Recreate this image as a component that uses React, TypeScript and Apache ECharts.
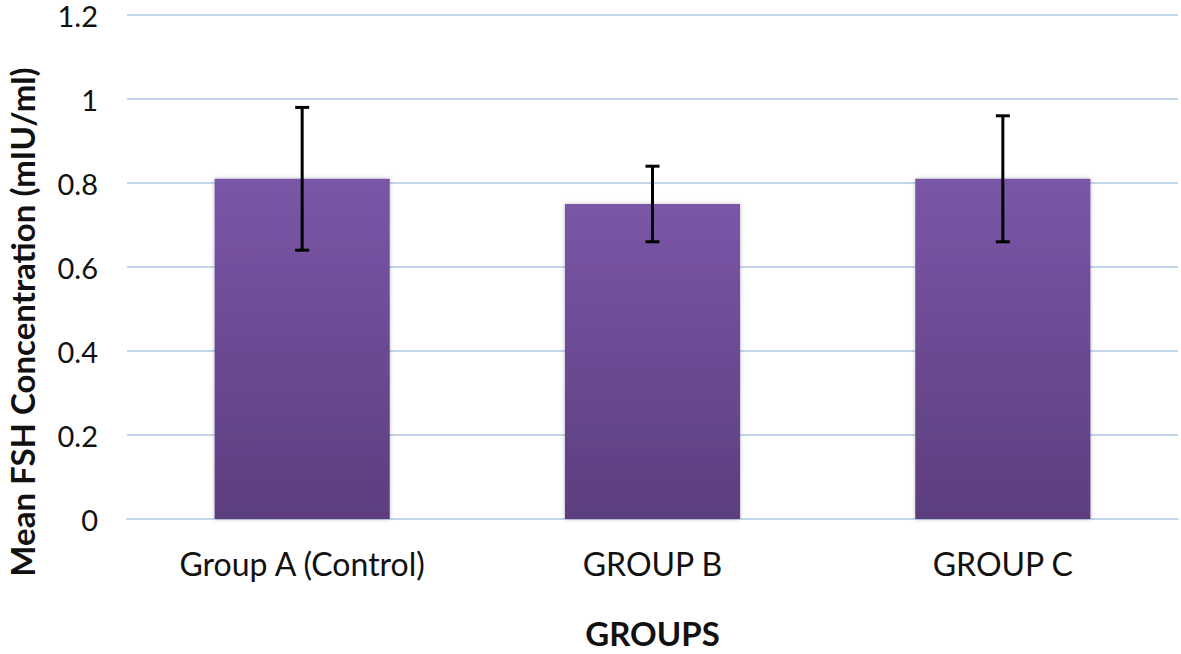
import React, { useEffect, useRef } from "react";
import * as echarts from "echarts";

const categories = ["Group A (Control)", "GROUP B", "GROUP C"];
const meanValues = [0.81, 0.75, 0.81];
const errorLow = [0.64, 0.66, 0.66];
const errorHigh = [0.98, 0.84, 0.96];
const yTicks = [0, 0.2, 0.4, 0.6, 0.8, 1, 1.2];

const FONT = "Lato, 'Open Sans', sans-serif";

export default function App() {
  const ref = useRef<HTMLDivElement>(null);
  useEffect(() => {
    if (!ref.current) return;
    const chart = echarts.init(ref.current, undefined, { renderer: "svg" });
    const errData = categories.map((_, i) => [i, errorLow[i], errorHigh[i]]);
    chart.setOption({
      animation: false,
      backgroundColor: "#ffffff",
      grid: { left: 127, right: 3, top: 15, bottom: 129.5 },
      xAxis: {
        type: "category",
        data: categories,
        axisTick: { show: false },
        axisLine: { lineStyle: { color: "#c4d6ec", width: 2 } },
        axisLabel: { color: "#111", fontSize: 32, fontFamily: FONT, margin: 28 },
        name: "GROUPS",
        nameLocation: "middle",
        nameGap: 97,
        nameTextStyle: { color: "#111", fontSize: 33, fontWeight: "bold", fontFamily: FONT },
      },
      yAxis: {
        type: "value",
        min: yTicks[0],
        max: yTicks[yTicks.length - 1],
        interval: 0.2,
        axisLine: { show: false },
        axisTick: { show: false },
        splitLine: { lineStyle: { color: "#c4d6ec", width: 2 } },
        axisLabel: {
          color: "#111",
          fontSize: 29,
          lineHeight: 24,
          fontFamily: FONT,
          margin: 29,
          formatter: (v: number) => String(Math.round(v * 10) / 10),
        },
      },
      graphic: [
        {
          type: "text",
          x: 22,
          y: 322,
          rotation: Math.PI / 2,
          style: {
            text: "Mean FSH Concentration (mIU/ml)",
            fill: "#111",
            fontSize: 33,
            fontWeight: "bold",
            fontFamily: FONT,
            align: "center",
            verticalAlign: "middle",
          },
        },
      ],
      series: [
        {
          type: "bar",
          data: meanValues,
          barWidth: "50%",
          itemStyle: {
            color: new echarts.graphic.LinearGradient(0, 0, 0, 1, [
              { offset: 0, color: "#7a56a7" },
              { offset: 1, color: "#5c3e7e" },
            ]),
            shadowColor: "rgba(0,0,0,0.25)",
            shadowBlur: 4,
          },
        },
        {
          type: "custom",
          data: errData,
          z: 10,
          renderItem: (params: any, api: any) => {
            const x = api.value(0);
            const lo = api.coord([x, api.value(1)]);
            const hi = api.coord([x, api.value(2)]);
            const cap = 7;
            const style = { stroke: "#000", lineWidth: 3 };
            return {
              type: "group",
              children: [
                { type: "line", shape: { x1: hi[0], y1: hi[1], x2: lo[0], y2: lo[1] }, style },
                { type: "line", shape: { x1: hi[0] - cap, y1: hi[1], x2: hi[0] + cap, y2: hi[1] }, style },
                { type: "line", shape: { x1: lo[0] - cap, y1: lo[1], x2: lo[0] + cap, y2: lo[1] }, style },
              ],
            };
          },
        },
      ],
    });
    return () => chart.dispose();
  }, []);
  return (
    <div
      ref={ref}
      style={{ position: "fixed", left: 0, top: 0, width: 1181, height: 654, background: "#fff" }}
    />
  );
}
